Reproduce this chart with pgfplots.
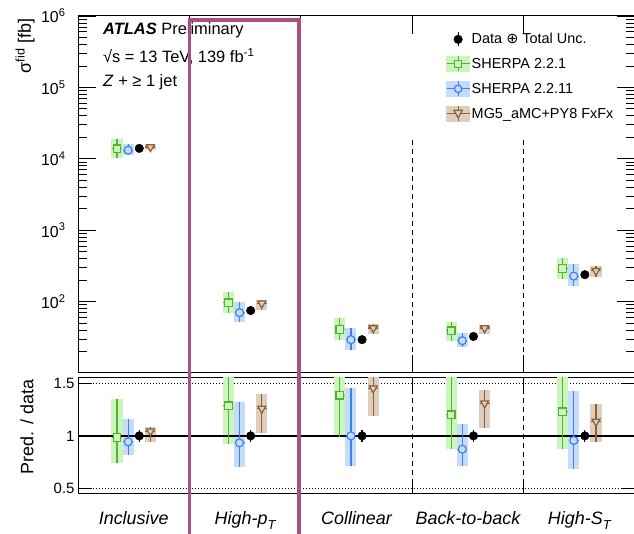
\documentclass[border=0pt]{standalone}
\usepackage{pgfplots}
\usepackage{pgfplotstable}
\pgfplotsset{compat=1.18}
\usepackage{fontspec}
\setmainfont{Liberation Sans}
\newfontfamily\djv{DejaVu Sans}
\definecolor{gline}{RGB}{85,178,45}
\definecolor{gband}{RGB}{202,245,188}
\definecolor{bline}{RGB}{55,130,245}
\definecolor{bband}{RGB}{198,220,250}
\definecolor{nline}{RGB}{140,95,55}
\definecolor{nband}{RGB}{221,206,190}
\definecolor{mag}{RGB}{168,80,128}

% top panel: x, value, err+, err-
\pgfplotstableread{
x y ep em
0.35 13776 5152 3416
1.35 96.45 41.55 27.15
2.35 40.64 18.55 11.78
3.35 39.0 13.0 10.53
4.35 292.5 119.2 83.3
}\topA
\pgfplotstableread{
x y ep em
0.45 13202 3024 1820
1.45 69.98 29.03 17.48
2.45 29.3 13.48 8.50
3.45 28.37 7.83 5.30
4.45 227.5 112.8 64.3
}\topB
\pgfplotstableread{
x y ep em
0.65 14616 546 1414
1.65 94.5 10.5 17.25
2.65 42.6 6.33 7.74
3.65 42.6 4.19 7.64
4.65 270.6 40.0 46.9
}\topC
\pgfplotstableread{
x y ep em
0.55 14000 770 770
1.55 75 4.1 4.1
2.55 29.3 1.6 1.6
3.55 32.5 1.8 1.8
4.55 238 13 13
}\topD
% ratio panel
\pgfplotstableread{
x y ep em
0.35 0.984 0.368 0.244
1.35 1.286 0.554 0.362
2.35 1.387 0.633 0.402
3.35 1.200 0.400 0.324
4.35 1.229 0.501 0.350
}\ratA
\pgfplotstableread{
x y ep em
0.45 0.943 0.216 0.130
1.45 0.933 0.387 0.233
2.45 1.000 0.460 0.290
3.45 0.873 0.241 0.163
4.45 0.956 0.474 0.270
}\ratB
\pgfplotstableread{
x y ep em
0.65 1.044 0.039 0.101
1.65 1.260 0.140 0.230
2.65 1.454 0.216 0.264
3.65 1.311 0.129 0.235
4.65 1.137 0.168 0.197
}\ratC
\pgfplotstableread{
x y ep em
0.55 1 0.055 0.055
1.55 1 0.055 0.055
2.55 1 0.055 0.055
3.55 1 0.055 0.055
4.55 1 0.055 0.055
}\ratD

\pgfplotsset{
  band/.style={draw=none, no markers, forget plot,
    error bars/.cd, y dir=both, y explicit, error mark=none,
    error bar style={line width=11.1bp, draw=#1, solid}},
  mcerr/.style={draw=none, no markers, forget plot,
    error bars/.cd, y dir=both, y explicit, x dir=both, x fixed=0.045, error mark=none,
    error bar style={draw=#1, line width=1.2bp, solid}},
  mcmark/.style n args={5}{only marks, mark=#2, mark size=#3, forget plot,
    mark options={solid, draw=#1, fill=#4, line width=1.2bp, rotate=#5}},
  dat/.style={only marks, mark=*, mark size=4.3bp, forget plot, black,
    mark options={solid, fill=black, draw=black},
    error bars/.cd, y dir=both, y explicit, error mark=none,
    error bar style={color=black, line width=1.2bp, solid}},
  frame/.style={scale only axis, width=557bp, xmin=0, xmax=5,
    axis line style={line width=1bp}, tick align=inside,
    every tick/.style={black, line width=0.8bp},
    xtick={1,2,3,4}, xticklabels={}, xtick pos=both, ytick pos=both},
}

\begin{document}
\begin{tikzpicture}
\useasboundingbox (0,0) rectangle (634bp,534bp);
% ---------- upper panel ----------
\begin{axis}[frame, at={(78bp,161bp)}, anchor=south west, height=357bp,
  ymode=log, ymin=10, ymax=1e6,
  ytick={100,1000,10000,100000,1000000},
  yticklabels={10\textsuperscript{2},10\textsuperscript{3},10\textsuperscript{4},10\textsuperscript{5},10\textsuperscript{6}},
  minor ytick={20,30,40,50,60,70,80,90,200,300,400,500,600,700,800,900,2000,3000,4000,5000,6000,7000,8000,9000,20000,30000,40000,50000,60000,70000,80000,90000,200000,300000,400000,500000,600000,700000,800000,900000},
  major tick length=18bp, minor tick length=9bp,
  yticklabel style={font=\fontsize{16}{18}\selectfont, xshift=-9bp},
  legend style={at={(0.655,0.962)}, anchor=north west, draw=none, fill=none,
    font=\fontsize{14.5}{17}\selectfont, row sep=8.8bp, nodes={inner sep=1.5bp}},
  legend cell align=left,
]
\addlegendimage{legend image code/.code={\draw[black,line width=1.2bp] (11.5bp,-7bp)--(11.5bp,7bp); \fill[black] (11.5bp,0bp) circle (4.3bp);}}
\addlegendentry{Data {\djv ⊕} Total Unc.}
\addlegendimage{legend image code/.code={\fill[gband] (0bp,-7.5bp) rectangle (23bp,7.5bp); \draw[gline,line width=1.2bp] (0bp,0bp)--(23bp,0bp) (11.5bp,-7.5bp)--(11.5bp,7.5bp); \draw[gline,line width=1.2bp,fill=gband] (8bp,-3.5bp) rectangle (15bp,3.5bp);}}
\addlegendentry{SHERPA 2.2.1}
\addlegendimage{legend image code/.code={\fill[bband] (0bp,-7.5bp) rectangle (23bp,7.5bp); \draw[bline,line width=1.2bp] (0bp,0bp)--(23bp,0bp) (11.5bp,-7.5bp)--(11.5bp,7.5bp); \draw[bline,line width=1.2bp,fill=bband] (11.5bp,0bp) circle (3.7bp);}}
\addlegendentry{SHERPA 2.2.11}
\addlegendimage{legend image code/.code={\fill[nband] (0bp,-7.5bp) rectangle (23bp,7.5bp); \draw[nline,line width=1.2bp] (0bp,0bp)--(23bp,0bp) (11.5bp,-7.5bp)--(11.5bp,7.5bp); \draw[nline,line width=1.2bp,fill=nband] (7.3bp,3.6bp)--(15.7bp,3.6bp)--(11.5bp,-4bp)--cycle;}}
\addlegendentry{MG5\_aMC+PY8 FxFx}

\draw[black, line width=1.2bp, dash pattern=on 5bp off 4bp] (axis cs:3,18450) -- (axis cs:3,10);
\draw[black, line width=1.2bp, dash pattern=on 5bp off 4bp] (axis cs:4,18450) -- (axis cs:4,10);
\addplot[band=gband] table[x=x, y=y, y error plus=ep, y error minus=em] {\topA};
\addplot[band=bband] table[x=x, y=y, y error plus=ep, y error minus=em] {\topB};
\addplot[band=nband] table[x=x, y=y, y error plus=ep, y error minus=em] {\topC};
\addplot[mcerr=gline] table[x=x, y=y, y error plus=ep, y error minus=em] {\topA};
\addplot[mcerr=bline] table[x=x, y=y, y error plus=ep, y error minus=em] {\topB};
\addplot[mcerr=nline] table[x=x, y=y, y error plus=ep, y error minus=em] {\topC};
\addplot[mcmark={gline}{square*}{3.8bp}{gband}{0}] table[x=x, y=y] {\topA};
\addplot[mcmark={bline}{*}{4bp}{bband}{0}] table[x=x, y=y] {\topB};
\addplot[mcmark={nline}{triangle*}{4.6bp}{nband}{180}] table[x=x, y=y] {\topC};
\addplot[dat] table[x=x, y=y, y error plus=ep, y error minus=em] {\topD};
\end{axis}

% ---------- ratio panel ----------
\begin{axis}[frame, at={(78bp,41bp)}, anchor=south west, height=115bp,
  ymin=0.455, ymax=1.552,
  ytick={0.5,1,1.5}, yticklabels={0.5,1,1.5}, minor ytick={},
  major tick length=14bp,
  yticklabel style={font=\fontsize{15}{17}\selectfont, xshift=0bp},
]
\draw[black, line width=0.8bp, dash pattern=on 1bp off 2bp] (axis cs:0,1.5) -- (axis cs:5,1.5);
\draw[black, line width=0.8bp, dash pattern=on 1bp off 2bp] (axis cs:0,0.5) -- (axis cs:5,0.5);
\draw[black, line width=1.2bp, dash pattern=on 5bp off 4bp] (axis cs:3,0.455) -- (axis cs:3,1.552);
\draw[black, line width=1.2bp, dash pattern=on 5bp off 4bp] (axis cs:4,0.455) -- (axis cs:4,1.552);
\addplot[band=gband] table[x=x, y=y, y error plus=ep, y error minus=em] {\ratA};
\addplot[band=bband] table[x=x, y=y, y error plus=ep, y error minus=em] {\ratB};
\addplot[band=nband] table[x=x, y=y, y error plus=ep, y error minus=em] {\ratC};
\draw[black, line width=1.5bp] (axis cs:0,1) -- (axis cs:5,1);
\addplot[mcerr=gline] table[x=x, y=y, y error plus=ep, y error minus=em] {\ratA};
\addplot[mcerr=bline] table[x=x, y=y, y error plus=ep, y error minus=em] {\ratB};
\addplot[mcerr=nline] table[x=x, y=y, y error plus=ep, y error minus=em] {\ratC};
\addplot[mcmark={gline}{square*}{3.8bp}{gband}{0}] table[x=x, y=y] {\ratA};
\addplot[mcmark={bline}{*}{4bp}{bband}{0}] table[x=x, y=y] {\ratB};
\addplot[mcmark={nline}{triangle*}{4.6bp}{nband}{180}] table[x=x, y=y] {\ratC};
\addplot[dat] table[x=x, y=y, y error plus=ep, y error minus=em] {\ratD};
\end{axis}

% ---------- labels ----------
\node[rotate=90, anchor=east, font=\fontsize{18}{20}\selectfont] at (25bp,519bp) {σ\textsuperscript{fid} [fb]};
\node[rotate=90, font=\fontsize{18}{20}\selectfont] at (27bp,107bp) {Pred. / data};
\begin{scope}[font=\fontsize{18}{20}\selectfont\itshape]
\node[anchor=base] at (133.7bp,10bp) {Inclusive};
\node[anchor=base] at (245.1bp,10bp) {High-p\raisebox{-5bp}{\fontsize{13}{13}\selectfont T}};
\node[anchor=base] at (356.5bp,10bp) {Collinear};
\node[anchor=base] at (467.9bp,10bp) {Back-to-back};
\node[anchor=base] at (579.3bp,10bp) {High-S\raisebox{-5bp}{\fontsize{13}{13}\selectfont T}};
\end{scope}
\begin{scope}[font=\fontsize{16.5}{18}\selectfont]
\node[anchor=base west, inner sep=0pt] at (103bp,499bp) {\textbf{\textit{ATLAS}} Preliminary};
\node[anchor=base west, inner sep=0pt] at (103bp,471bp) {√s = 13 TeV, 139 fb\textsuperscript{-1}};
\node[anchor=base west, inner sep=0pt] at (103bp,447bp) {\textit{Z} + ≥ 1 jet};
\end{scope}
\draw[mag, line width=3.5bp] (189.5bp,-5bp) rectangle (299bp,514bp);
\end{tikzpicture}
\end{document}
